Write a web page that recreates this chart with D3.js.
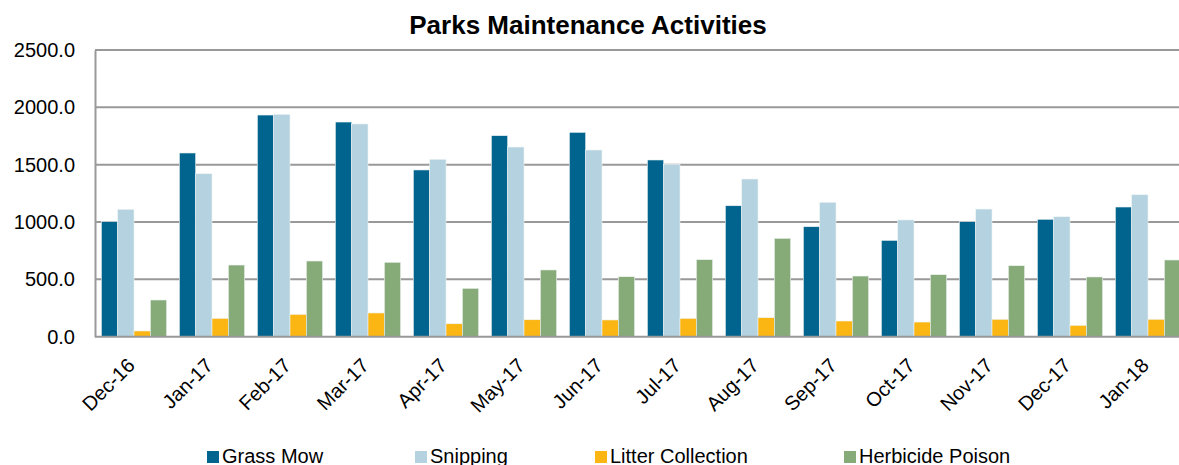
<!DOCTYPE html>
<html>
<head>
<meta charset="utf-8">
<script src="https://cdn.jsdelivr.net/npm/d3@7"></script>
<style>
  body { margin: 0; background: #fff; }
  text { font-family: "Liberation Sans", Arial, sans-serif; fill: #000; }
</style>
</head>
<body>
<div class="chart"></div>
<script>
// data
const months = ["Dec-16", "Jan-17", "Feb-17", "Mar-17", "Apr-17", "May-17", "Jun-17",
                "Jul-17", "Aug-17", "Sep-17", "Oct-17", "Nov-17", "Dec-17", "Jan-18"];
const seriesNames = ["Grass Mow", "Snipping", "Litter Collection", "Herbicide Poison"];
const grassMow = [1003, 1602, 1933, 1872, 1454, 1753, 1782, 1541, 1142, 959, 840, 1003, 1024, 1131];
const snipping = [1111, 1421, 1939, 1855, 1547, 1654, 1628, 1503, 1375, 1172, 1018, 1113, 1046, 1238];
const litterCollection = [50, 160, 195, 207, 113, 148, 146, 160, 166, 137, 128, 152, 99, 152];
const herbicidePoison = [320, 625, 660, 649, 422, 582, 523, 672, 858, 529, 541, 619, 521, 669];
const yTicks = [0, 500, 1000, 1500, 2000, 2500];

const colors = ["#00648f", "#b4d2e0", "#fbb614", "#86aa78"];
const seriesValues = [grassMow, snipping, litterCollection, herbicidePoison];

const width = 1179, height = 465;
// plot area: runs past the right edge like the original
const margin = { top: 50, left: 95 };
const plotRight = 1187, plotBottom = 336.7;

const svg = d3.select(".chart")
    .append("svg")
    .attr("width", width)
    .attr("height", height);

const data = months.map((m, i) => ({
    month: m,
    values: seriesNames.map((s, j) => ({ key: s, value: seriesValues[j][i], idx: j }))
}));

const x0 = d3.scaleBand().domain(months).range([margin.left, plotRight]);
const gap = x0.bandwidth() * 0.163;
const x1 = d3.scaleBand().domain(seriesNames).range([gap / 2, x0.bandwidth() - gap / 2]);
const y = d3.scaleLinear().domain([0, 2500]).range([plotBottom, margin.top]);

// gridlines
svg.append("g")
    .selectAll("line")
    .data(yTicks.slice(1))
    .join("line")
    .attr("x1", margin.left)
    .attr("x2", width)
    .attr("y1", d => y(d))
    .attr("y2", d => y(d))
    .attr("stroke", "#999")
    .attr("stroke-width", 2);

// bars
svg.append("g")
    .selectAll("g")
    .data(data)
    .join("g")
    .attr("transform", d => `translate(${x0(d.month)},0)`)
    .selectAll("rect")
    .data(d => d.values)
    .join("rect")
    .attr("x", d => x1(d.key))
    .attr("width", x1.bandwidth())
    .attr("y", d => y(d.value))
    .attr("height", d => y(0) - y(d.value))
    .attr("fill", d => colors[d.idx])
    .attr("stroke", "#eef4f4")
    .attr("stroke-width", 0.6);

// y axis
const yAxis = d3.axisLeft(y).tickValues(yTicks).tickFormat(d3.format(".1f")).tickSize(0).tickPadding(20);
svg.append("g")
    .attr("class", "y-axis")
    .attr("transform", `translate(${margin.left},0)`)
    .call(yAxis)
    .call(g => g.select(".domain").attr("stroke", "#999").attr("stroke-width", 2))
    .call(g => g.selectAll("text").attr("font-size", 20).attr("font-family", "Liberation Sans, Arial, sans-serif"));

// x axis
const xAxis = d3.axisBottom(x0).tickSize(0).tickPadding(0);
svg.append("g")
    .attr("class", "x-axis")
    .attr("transform", `translate(0,${plotBottom})`)
    .call(xAxis)
    .call(g => g.select(".domain").attr("stroke", "#999").attr("stroke-width", 2).attr("d", `M${margin.left},0H${width}`))
    .call(g => g.selectAll("text")
        .attr("font-size", 20)
        .attr("font-family", "Liberation Sans, Arial, sans-serif")
        .attr("text-anchor", "end")
        .attr("y", 0)
        .attr("dy", 0)
        .attr("transform", "translate(2,30) rotate(-45)"));

// title
svg.append("text")
    .attr("x", 588)
    .attr("y", 34)
    .attr("text-anchor", "middle")
    .attr("font-size", 26)
    .attr("font-weight", "bold")
    .text("Parks Maintenance Activities");

// legend
const legendX = [207, 415, 595, 844];
const legend = svg.append("g")
    .selectAll("g")
    .data(seriesNames)
    .join("g")
    .attr("transform", (d, i) => `translate(${legendX[i]},451)`);
legend.append("rect")
    .attr("width", 12)
    .attr("height", 12)
    .attr("fill", (d, i) => colors[i]);
legend.append("text")
    .attr("x", 15)
    .attr("y", 12)
    .attr("font-size", 20)
    .text(d => d);
</script>
</body>
</html>
